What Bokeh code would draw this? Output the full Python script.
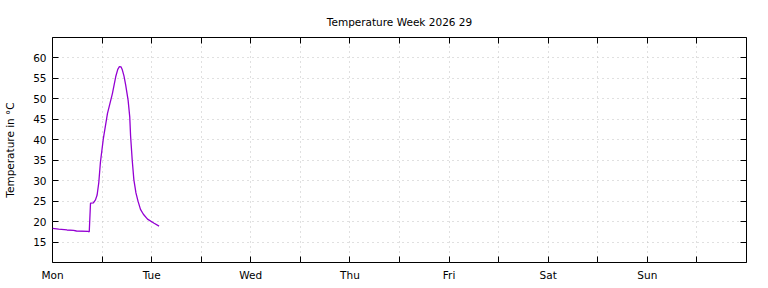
from bokeh.plotting import figure
from bokeh.models import FixedTicker, LinearAxis, Range1d
from bokeh.embed import file_html
from bokeh.resources import INLINE

# hours since Monday 00:00
hours = [0.0, 1.5, 3.5, 5.1, 5.8, 8.6, 8.9, 9.2, 9.9, 10.4, 10.8, 11.2, 11.6, 12.3, 13.3,
         14.5, 15.3, 15.8, 16.2, 16.6, 16.9, 17.3, 17.7, 18.3, 18.7, 18.9, 19.3, 19.7,
         20.2, 20.7, 21.3, 22.0, 23.0, 24.6, 25.8]
temps = [18.35, 18.15, 17.95, 17.85, 17.7, 17.6, 17.5, 24.5, 24.6, 25.3, 26.5, 29.5, 34.5,
         40.2, 46.4, 51.3, 55.4, 57.2, 57.9, 57.8, 57.1, 55.6, 53.5, 49.7, 45.6, 41.0, 35.0,
         30.2, 27.0, 25.0, 23.0, 21.8, 20.6, 19.6, 18.9]

day_labels = ["Mon", "Tue", "Wed", "Thu", "Fri", "Sat", "Sun"]
x_ticks = list(range(0, 168 + 1, 12))
y_ticks = [15, 20, 25, 30, 35, 40, 45, 50, 55, 60]

FONT = "DejaVu Sans"
FS = "10.5px"

p = figure(width=768, height=288, output_backend="svg", toolbar_location=None,
           x_range=Range1d(0, 168), y_range=Range1d(10, 65),
           min_border_left=52, min_border_right=22, min_border_top=37, min_border_bottom=26,
           title="Temperature Week 2026 29")
p.title.align = "center"
p.title.text_font = FONT
p.title.text_font_size = FS
p.title.text_font_style = "normal"
p.title.text_color = "black"
p.title.standoff = 19

p.outline_line_color = "black"
p.outline_line_width = 1
p.background_fill_color = "white"
p.border_fill_color = "white"

overrides = {}
for t in x_ticks:
    overrides[t] = day_labels[t // 24] if (t % 24 == 0 and t // 24 < 7) else ""

for ax in p.xaxis:
    ax.ticker = FixedTicker(ticks=x_ticks)
    ax.major_label_overrides = overrides
for ax in p.yaxis:
    ax.ticker = FixedTicker(ticks=y_ticks)
    ax.axis_label = "Temperature in °C"
    ax.axis_label_standoff = 14
    ax.axis_label_text_font_style = "normal"

for ax in list(p.xaxis) + list(p.yaxis):
    ax.major_tick_in = 6
    ax.major_tick_out = 0
    ax.minor_tick_in = 0
    ax.minor_tick_out = 0
    ax.axis_line_color = None
    ax.major_tick_line_color = "black"
    ax.major_label_text_font = FONT
    ax.major_label_text_font_size = FS
    ax.major_label_text_color = "black"
    ax.axis_label_text_font = FONT
    ax.axis_label_text_font_size = FS
    ax.axis_label_text_color = "black"
    ax.major_label_standoff = 6

top = LinearAxis(ticker=FixedTicker(ticks=x_ticks), major_tick_in=6, major_tick_out=0,
                 minor_tick_in=0, minor_tick_out=0, axis_line_color=None,
                 major_label_overrides={t: "" for t in x_ticks}, major_label_standoff=0)
right = LinearAxis(ticker=FixedTicker(ticks=y_ticks), major_tick_in=6, major_tick_out=0,
                   minor_tick_in=0, minor_tick_out=0, axis_line_color=None,
                   major_label_overrides={t: "" for t in y_ticks}, major_label_standoff=0)
p.add_layout(top, "above")
p.add_layout(right, "right")

p.grid.grid_line_color = "#c0c0c0"
p.grid.grid_line_dash = "1 4"
p.grid.grid_line_width = 1

p.line(hours, temps, line_color="#9400d3", line_width=1.3)

open("out.html", "w").write(file_html(p, INLINE))
